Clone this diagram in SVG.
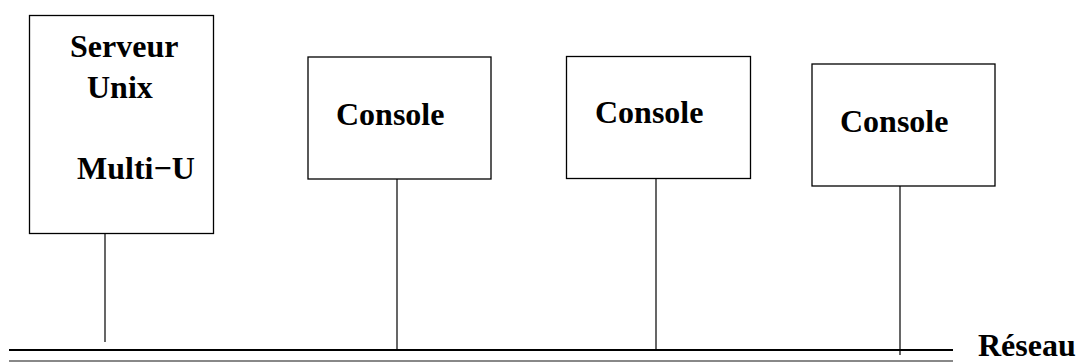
<svg xmlns="http://www.w3.org/2000/svg" width="1080" height="363" viewBox="0 0 1080 363">
<style>
.box{fill:#fff;stroke:#000;stroke-width:1.3}
.t{font-family:"Liberation Serif",serif;font-weight:bold;font-size:32px;fill:#000}
.ln{stroke:#000;stroke-width:1.2;fill:none}
</style>
<rect width="1080" height="363" fill="#fff"/>
<g id="connectors">
<line class="ln" x1="105" y1="233" x2="105" y2="342"/>
<line class="ln" x1="397" y1="179" x2="397" y2="349"/>
<line class="ln" x1="656" y1="178" x2="656" y2="349"/>
<line class="ln" x1="900" y1="186" x2="900" y2="355"/>
</g>
<g id="reseau">
<line x1="9" y1="350" x2="953" y2="350" stroke="#000" stroke-width="2"/>
<line x1="9" y1="361" x2="953" y2="361" stroke="#888" stroke-width="2"/>
<text class="t" x="978" y="356">Réseau</text>
</g>
<g id="serveur">
<rect class="box" x="29.5" y="15.5" width="184" height="218"/>
<text class="t" x="70" y="57">Serveur</text>
<text class="t" x="87" y="98">Unix</text>
<text class="t" x="77" y="179">Multi−U</text>
</g>
<g id="console1">
<rect class="box" x="308" y="57" width="183" height="122"/>
<text class="t" x="336" y="125">Console</text>
</g>
<g id="console2">
<rect class="box" x="566.5" y="56.5" width="184" height="122"/>
<text class="t" x="595" y="123">Console</text>
</g>
<g id="console3">
<rect class="box" x="812" y="64" width="183" height="122"/>
<text class="t" x="840" y="132">Console</text>
</g>
</svg>
